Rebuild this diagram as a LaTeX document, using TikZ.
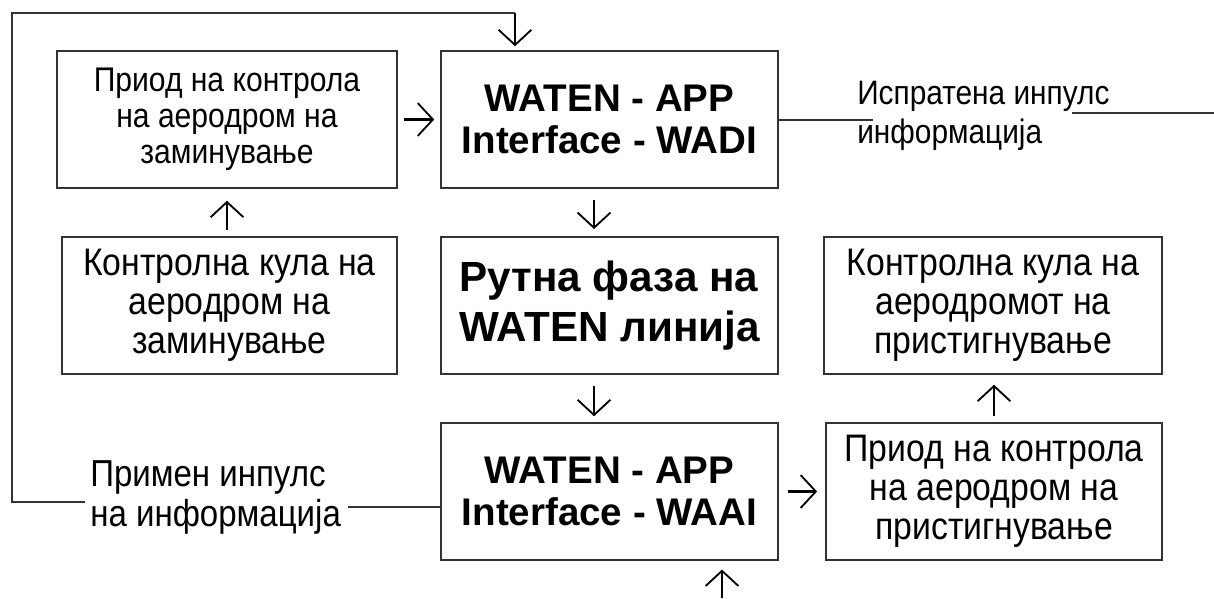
\documentclass[tikz,border=0pt]{standalone}
\usepackage{fontspec}
\setmainfont{Liberation Sans}
\newfontfamily\narrowsans{Liberation Sans}[FakeStretch=0.88]
\usetikzlibrary{arrows.meta, positioning, calc}

\begin{document}
\begin{tikzpicture}[x=0.025cm, y=-0.025cm,
    % Base style for all boxes
    box/.style={draw=black!80, line width=1.2pt, minimum width=8.42cm, minimum height=3.42cm, align=center, inner sep=2pt},
    % Text sizes
    smalltxt/.style={font=\narrowsans\fontsize{24.3}{25.5}\selectfont},
    bigtxt/.style={font=\narrowsans\fontsize{27.3}{27.8}\selectfont},
    wadi/.style={font=\fontsize{27.4}{29.5}\selectfont\bfseries},
    phase/.style={font=\fontsize{30}{35}\selectfont\bfseries, align=left},
    % Free labels on the lines
    lbl/.style={font=\narrowsans\fontsize{24.1}{28}\selectfont, align=left, inner sep=0pt},
    lblbig/.style={font=\narrowsans\fontsize{26.7}{29}\selectfont, align=left, inner sep=0pt},
    % Lines and arrows
    link/.style={line width=1.2pt, draw=black!80},
    arrow/.style={-{Straight Barb[length=0.38cm, width=0.82cm, line width=1.3pt]}, line width=1.8pt}
]
\useasboundingbox (0,0) rectangle (1214,598);

% Departure side
\node[box, smalltxt, minimum width=8.5cm] (depapp) at (227,119.5) {Приод на контрола\\на аеродром на\\заминување};
\node[box, bigtxt, minimum width=8.38cm] (deptwr) at (229.5,305.5) {Контролна кула на\\аеродром на\\заминување};

% WATEN column
\node[box, wadi] (wadi) at (609.5,119.5) {WATEN - APP\\Interface - WADI};
\node[box, phase] (route) at (609.5,305.5) {Рутна фаза на\\WATEN линија};
\node[box, wadi] (waai) at (609.5,491.5) {WATEN - APP\\Interface - WAAI};

% Arrival side
\node[box, bigtxt, minimum width=8.45cm] (arrtwr) at (993,305.5) {Контролна кула на\\аеродромот на\\пристигнување};
\node[box, bigtxt, minimum width=8.4cm] (arrapp) at (994,491.5) {Приод на контрола\\на аеродром на\\пристигнување};

% Labels
\node[lbl, anchor=north west] (sent) at (857,81) {Испратена инпулс\\информација};
\node[lblbig, anchor=north west] (recv) at (90,460) {Примен инпулс\\на информација};

% Free ends of the lines
\coordinate (sentend) at (873,120);
\coordinate (outstart) at (1072,113);
\coordinate (outend) at (1214,113);
\coordinate (recvstart) at (348,507);
\coordinate (recvend) at (85,502);
\coordinate (loopbl) at (12,502);
\coordinate (looptl) at (12,13);
\coordinate (looptr) at (515,13);
\coordinate (arrin) at (722,598);

% Arrows between boxes
\draw[arrow, shorten <=0.15cm, shorten >=0.15cm] (depapp) -- (wadi);
\draw[arrow, shorten <=0.15cm, shorten >=0.3cm] (deptwr.north -| depapp) -- (depapp.south);
\draw[arrow, shorten <=0.28cm, shorten >=0.18cm] ($(wadi.south)+(-15.5,0)$) -- ($(route.north)+(-15.5,0)$);
\draw[arrow, shorten <=0.28cm, shorten >=0.15cm] ($(route.south)+(-15.5,0)$) -- ($(waai.north)+(-15.5,0)$);
\draw[arrow, shorten <=0.22cm, shorten >=0.2cm] (waai) -- (arrapp);
\draw[arrow, shorten <=0.15cm, shorten >=0.25cm] (arrapp.north) -- (arrapp.north |- arrtwr.south);
\draw[arrow, shorten >=0.22cm] (arrin) -- (arrin |- waai.south);

% Outgoing impulse
\draw[link] (wadi.east |- sentend) -- (sentend);
\draw[link] (outstart) -- (outend);

% Incoming impulse, looped back to the top
\draw[link] (waai.west |- recvstart) -- (recvstart);
\draw[link] (recvend) -- (loopbl) -- (looptl) -- (looptr);
\draw[arrow, shorten >=0.1cm] (looptr) -- (looptr |- wadi.north);

\end{tikzpicture}
\end{document}
